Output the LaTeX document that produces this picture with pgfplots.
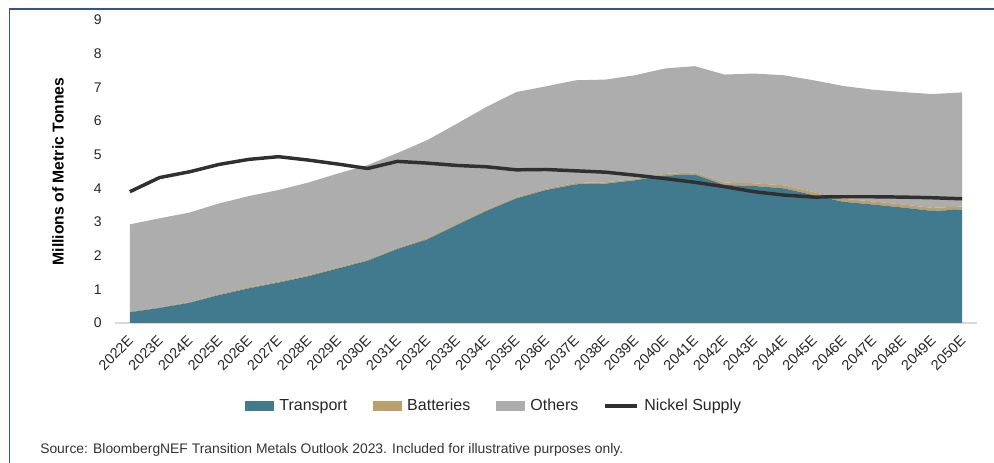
\documentclass[border=0pt]{standalone}
\usepackage{fontspec}
\setmainfont{Liberation Sans}
\usepackage{pgfplots}
\usepackage{pgfplotstable}
\pgfplotsset{compat=1.18}
\definecolor{transport}{RGB}{65,122,143}
\definecolor{batteries}{RGB}{185,160,108}
\definecolor{others}{RGB}{173,173,173}
\definecolor{nickel}{RGB}{48,48,48}
\definecolor{frame}{RGB}{47,85,151}
\definecolor{txt}{RGB}{38,38,38}
\pgfplotstableread{
idx transport batteries others nickel
0 0.32 0.02 2.59 3.90
1 0.45 0.02 2.64 4.32
2 0.60 0.02 2.66 4.49
3 0.83 0.03 2.69 4.71
4 1.03 0.03 2.71 4.86
5 1.20 0.03 2.72 4.94
6 1.39 0.03 2.75 4.84
7 1.62 0.03 2.79 4.72
8 1.85 0.03 2.81 4.59
9 2.20 0.03 2.82 4.80
10 2.48 0.04 2.91 4.75
11 2.91 0.04 2.97 4.68
12 3.33 0.04 3.05 4.64
13 3.70 0.04 3.12 4.55
14 3.95 0.04 3.04 4.56
15 4.12 0.04 3.05 4.52
16 4.14 0.04 3.05 4.48
17 4.24 0.04 3.08 4.39
18 4.38 0.05 3.13 4.29
19 4.41 0.06 3.16 4.18
20 4.10 0.07 3.21 4.05
21 4.07 0.08 3.26 3.90
22 4.00 0.09 3.27 3.80
23 3.80 0.09 3.32 3.74
24 3.60 0.09 3.35 3.75
25 3.52 0.09 3.32 3.75
26 3.43 0.09 3.34 3.74
27 3.33 0.09 3.38 3.72
28 3.37 0.09 3.39 3.69
}\datatable
\pgfplotsset{
  common/.style={
    at={(86.25pt,105pt)}, anchor=south west,
    scale only axis, width=646.5pt, height=227.25pt,
    xmin=-0.5, xmax=28.5, ymin=0, ymax=9,
  }
}
\begin{document}
\begin{tikzpicture}
\path[use as bounding box] (0,0) rectangle (745.5pt,347.25pt);
\draw[frame, line width=1.2pt] (7.1pt,0pt) -- (7.1pt,340.6pt) -- (745.5pt,340.6pt);
\begin{axis}[
  common,
  axis x line*=bottom, axis y line*=left,
  x axis line style={draw=black!15, line width=1.1pt},
  y axis line style={draw=none},
  major tick length=0pt,
  xtick={0,...,28},
  xticklabels={2022E,2023E,2024E,2025E,2026E,2027E,2028E,2029E,2030E,2031E,2032E,2033E,2034E,2035E,2036E,2037E,2038E,2039E,2040E,2041E,2042E,2043E,2044E,2045E,2046E,2047E,2048E,2049E,2050E},
  x tick label style={xshift=3pt, yshift=-9pt, rotate=45, anchor=east, font=\fontsize{10.8}{12}\selectfont, text=txt},
  ytick={0,...,9},
  y tick label style={font=\fontsize{10.5}{12}\selectfont, text=txt, xshift=-6.5pt},
  /pgf/number format/assume math mode=true,
  ylabel={\bfseries Millions of Metric Tonnes},
  ylabel style={at={(axis description cs:-0.0661,0.5)}, anchor=center, font=\fontsize{11.8}{13}\selectfont},
  stack plots=y,
  legend columns=4,
  legend style={at={(axis description cs:0.44,-0.274)}, anchor=center, draw=none, fill=none,
    font=\fontsize{12}{14}\selectfont, text=txt,
    /tikz/every even column/.append style={column sep=17pt},
    /tikz/every odd column/.append style={column sep=2pt},
    inner sep=0pt},
  legend cell align=left,
]
\addplot[draw=none, fill=transport, area legend,
  legend image code/.code={\fill[transport] (0pt,-3.75pt) rectangle (22pt,3.75pt);}]
  table[x=idx, y=transport] {\datatable} \closedcycle;
\addlegendentry{Transport}
\addplot[draw=none, fill=batteries, area legend,
  legend image code/.code={\fill[batteries] (0pt,-3.75pt) rectangle (22pt,3.75pt);}]
  table[x=idx, y=batteries] {\datatable} \closedcycle;
\addlegendentry{Batteries}
\addplot[draw=none, fill=others, area legend,
  legend image code/.code={\fill[others] (0pt,-3.75pt) rectangle (22pt,3.75pt);}]
  table[x=idx, y=others] {\datatable} \closedcycle;
\addlegendentry{Others}
\addlegendimage{legend image code/.code={\draw[nickel, line width=2.4pt] (0pt,0pt) -- (24pt,0pt);}}
\addlegendentry{Nickel Supply}
\end{axis}
\begin{axis}[common, hide axis]
\addplot[nickel, line width=2.6pt, line join=round, mark=none]
  table[x=idx, y=nickel] {\datatable};
\end{axis}
\node[anchor=west, inner sep=0pt, font=\fontsize{10.4}{12}\selectfont, text=black!80] at (30pt,9.75pt)
  {Source: BloombergNEF Transition Metals Outlook 2023. Included for illustrative purposes only.};
\end{tikzpicture}
\end{document}
